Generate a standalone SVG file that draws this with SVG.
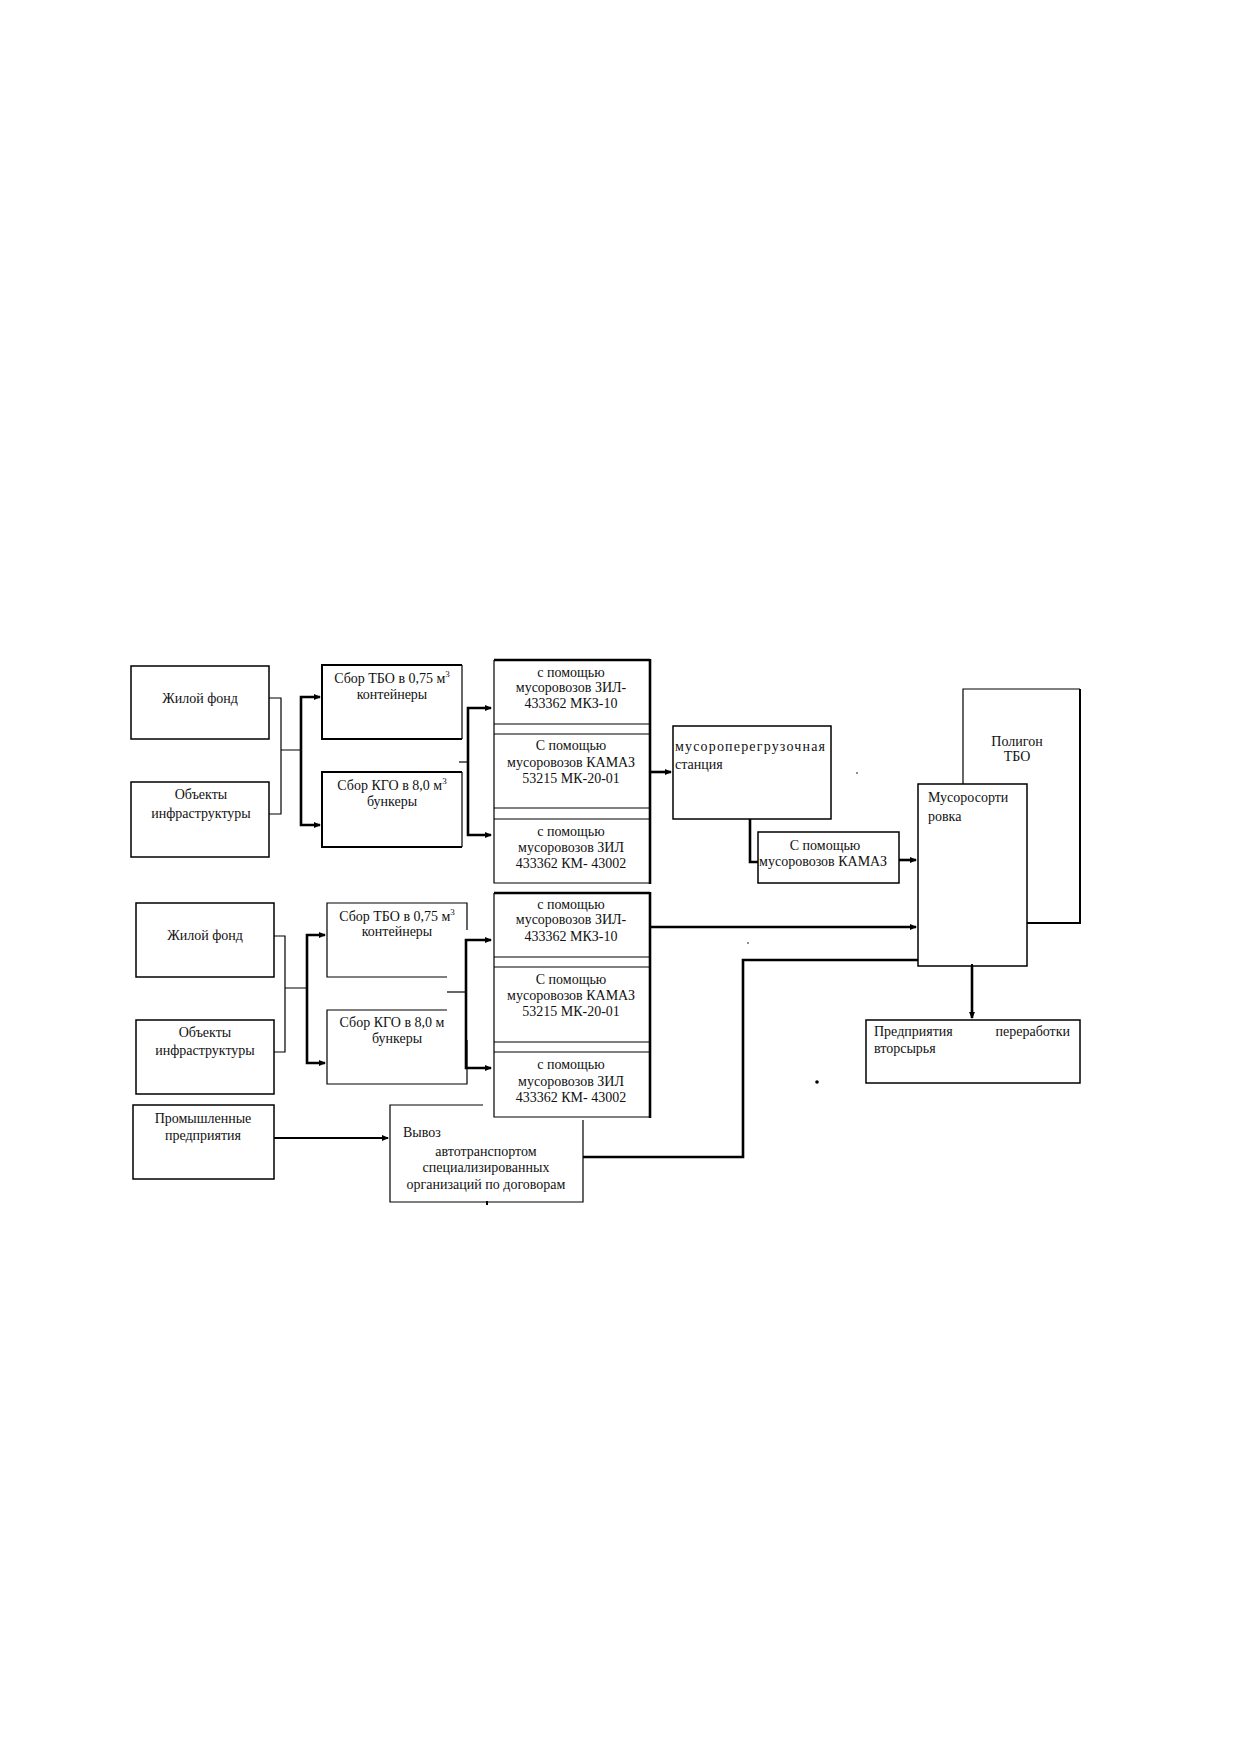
<svg xmlns="http://www.w3.org/2000/svg" width="1239" height="1752" viewBox="0 0 1239 1752">
<style>
text{font-family:"Liberation Serif","Times New Roman",serif;font-size:14px;fill:#111}
.c{text-anchor:middle}
.sup{font-size:9px}
.b{fill:#fff;stroke:#000;stroke-width:1.5}
.t{fill:none;stroke:#000;stroke-width:1.2}
.k{fill:none;stroke:#000;stroke-width:2.6}
.k2{fill:none;stroke:#000;stroke-width:2}
</style>
<defs>
<marker id="ah" markerWidth="8" markerHeight="8" refX="6" refY="4" orient="auto" markerUnits="userSpaceOnUse">
<path d="M0,1 L7,4 L0,7 Z" fill="#000"/>
</marker>
</defs>
<rect width="1239" height="1752" fill="#fff"/>

<g id="connectors">
<path class="t" d="M269,698 H281 V814 H269 M281,750 H301"/>
<path class="k" d="M301,750 V697 H320" marker-end="url(#ah)"/>
<path class="k" d="M301,750 V825 H320" marker-end="url(#ah)"/>
<path class="t" d="M459,762 H468"/>
<path class="k" d="M468,762 V708 H491" marker-end="url(#ah)"/>
<path class="k" d="M468,762 V835 H491" marker-end="url(#ah)"/>
<path class="k" d="M650,772 H671" marker-end="url(#ah)"/>
<path class="k" d="M750,819 V862 H758"/>
<path class="k" d="M899,860 H916" marker-end="url(#ah)"/>
<path class="t" d="M274,936 H285 V1052 H274 M285,988 H307"/>
<path class="k" d="M307,988 V935 H325" marker-end="url(#ah)"/>
<path class="k" d="M307,988 V1063 H325" marker-end="url(#ah)"/>
<path class="t" d="M447,992 H466"/>
<path class="k" d="M466,992 V940 H491" marker-end="url(#ah)"/>
<path class="k" d="M466,992 V1068 H491" marker-end="url(#ah)"/>
<path class="k" d="M650,927 H916" marker-end="url(#ah)"/>
<path class="k" d="M583,1157 H743 V960 H918"/>
<path class="k" d="M972,966 V1018" marker-end="url(#ah)"/>
<path class="k2" d="M274,1138 H388" marker-end="url(#ah)"/>
</g>

<g id="zhiloy1">
<rect class="b" x="131" y="666" width="138" height="73"/>
<text class="c" x="200" y="703">Жилой фонд</text>
</g>
<g id="obekty1">
<rect class="b" x="131" y="782" width="138" height="75"/>
<text class="c" x="201" y="799">Объекты</text>
<text class="c" x="201" y="818">инфраструктуры</text>
</g>
<g id="sbor-tbo1">
<rect fill="#fff" x="322" y="665" width="140" height="74"/>
<path class="k2" d="M462,665 H322 V739 H462"/>
<path class="t" d="M462,665 V739"/>
<text class="c" x="392" y="683">Сбор ТБО в 0,75 м<tspan class="sup" dy="-6">3</tspan></text>
<text class="c" x="392" y="699">контейнеры</text>
</g>
<g id="sbor-kgo1">
<rect fill="#fff" x="322" y="772" width="140" height="75"/>
<path class="k2" d="M462,772 H322 V847 H462"/>
<path class="t" d="M462,772 V847"/>
<text class="c" x="392" y="790">Сбор КГО в 8,0 м<tspan class="sup" dy="-6">3</tspan></text>
<text class="c" x="392" y="806">бункеры</text>
</g>
<g id="trucks1">
<rect fill="#fff" x="494" y="660" width="155" height="223"/>
<path class="t" d="M494,660 V883 H649 M494,724 H649 M494,734 H649 M494,808 H649 M494,819 H649"/>
<path class="k" d="M494,660 H650 M650,659 V884"/>
<text class="c" x="571" y="677">с помощью</text>
<text class="c" x="571" y="692">мусоровозов ЗИЛ-</text>
<text class="c" x="571" y="708">433362 МКЗ-10</text>
<text class="c" x="571" y="750">С помощью</text>
<text class="c" x="571" y="767">мусоровозов КАМАЗ</text>
<text class="c" x="571" y="783">53215 МК-20-01</text>
<text class="c" x="571" y="836">с помощью</text>
<text class="c" x="571" y="852">мусоровозов ЗИЛ</text>
<text class="c" x="571" y="868">433362 КМ- 43002</text>
</g>
<g id="station">
<rect class="b" x="673" y="726" width="158" height="93"/>
<text x="675" y="751" textLength="150" lengthAdjust="spacing">мусороперегрузочная</text>
<text x="675" y="769">станция</text>
</g>
<g id="kamaz">
<rect class="b" x="758" y="832" width="141" height="51"/>
<text class="c" x="825" y="850">С помощью</text>
<text class="c" x="823" y="866">мусоровозов КАМАЗ</text>
</g>
<g id="poligon">
<rect fill="#fff" x="963" y="689" width="117" height="234"/>
<path class="t" d="M963,923 V689 H1080"/>
<path class="k2" d="M1080,689 V923 H1027"/>
<text class="c" x="1017" y="746">Полигон</text>
<text class="c" x="1017" y="761">ТБО</text>
</g>
<g id="sortirovka">
<rect class="b" x="918" y="784" width="109" height="182"/>
<text x="928" y="802">Мусоросорти</text>
<text x="928" y="821">ровка</text>
</g>
<g id="zhiloy2">
<rect class="b" x="136" y="903" width="138" height="74"/>
<text class="c" x="205" y="940">Жилой фонд</text>
</g>
<g id="obekty2">
<rect class="b" x="136" y="1020" width="138" height="74"/>
<text class="c" x="205" y="1037">Объекты</text>
<text class="c" x="205" y="1055">инфраструктуры</text>
</g>
<g id="sbor-tbo2">
<path class="t" d="M447,977 H327 V903 H467 V930"/>
<text class="c" x="397" y="921">Сбор ТБО в 0,75 м<tspan class="sup" dy="-6">3</tspan></text>
<text class="c" x="397" y="936">контейнеры</text>
</g>
<g id="sbor-kgo2">
<path class="t" d="M447,1010 H327 V1084 H467 V1040"/>
<text class="c" x="392" y="1027">Сбор КГО в 8,0 м</text>
<text class="c" x="397" y="1043">бункеры</text>
</g>
<g id="vyvoz">
<path class="t" d="M483,1105 H390 V1202 H583 V1120"/>
<text x="403" y="1137">Вывоз</text>
<text class="c" x="486" y="1156">автотранспортом</text>
<text class="c" x="486" y="1172">специализированных</text>
<text class="c" x="486" y="1189">организаций по договорам</text>
</g>
<g id="trucks2">
<rect fill="#fff" x="494" y="893" width="155" height="224"/>
<path class="t" d="M494,893 V1117 H649 M494,957 H649 M494,967 H649 M494,1042 H649 M494,1052 H649"/>
<path class="k" d="M494,893 H650 M650,892 V1118"/>
<text class="c" x="571" y="909">с помощью</text>
<text class="c" x="571" y="924">мусоровозов ЗИЛ-</text>
<text class="c" x="571" y="941">433362 МКЗ-10</text>
<text class="c" x="571" y="984">С помощью</text>
<text class="c" x="571" y="1000">мусоровозов КАМАЗ</text>
<text class="c" x="571" y="1016">53215 МК-20-01</text>
<text class="c" x="571" y="1069">с помощью</text>
<text class="c" x="571" y="1086">мусоровозов ЗИЛ</text>
<text class="c" x="571" y="1102">433362 КМ- 43002</text>
</g>
<g id="prom">
<rect class="b" x="133" y="1105" width="141" height="74"/>
<text class="c" x="203" y="1123">Промышленные</text>
<text class="c" x="203" y="1140">предприятия</text>
</g>
<g id="predpriyatiya">
<rect class="b" x="866" y="1020" width="214" height="63"/>
<text x="874" y="1036">Предприятия</text>
<text x="1070" y="1036" text-anchor="end">переработки</text>
<text x="874" y="1053">вторсырья</text>
</g>
<g id="marks">
<circle cx="857" cy="773" r="0.8" fill="#000"/>
<circle cx="748" cy="943" r="0.8" fill="#000"/>
<circle cx="817" cy="1082" r="1.8" fill="#000"/>
<path class="k2" d="M487,1201 V1205 M972,964 V968"/>
</g>
</svg>
